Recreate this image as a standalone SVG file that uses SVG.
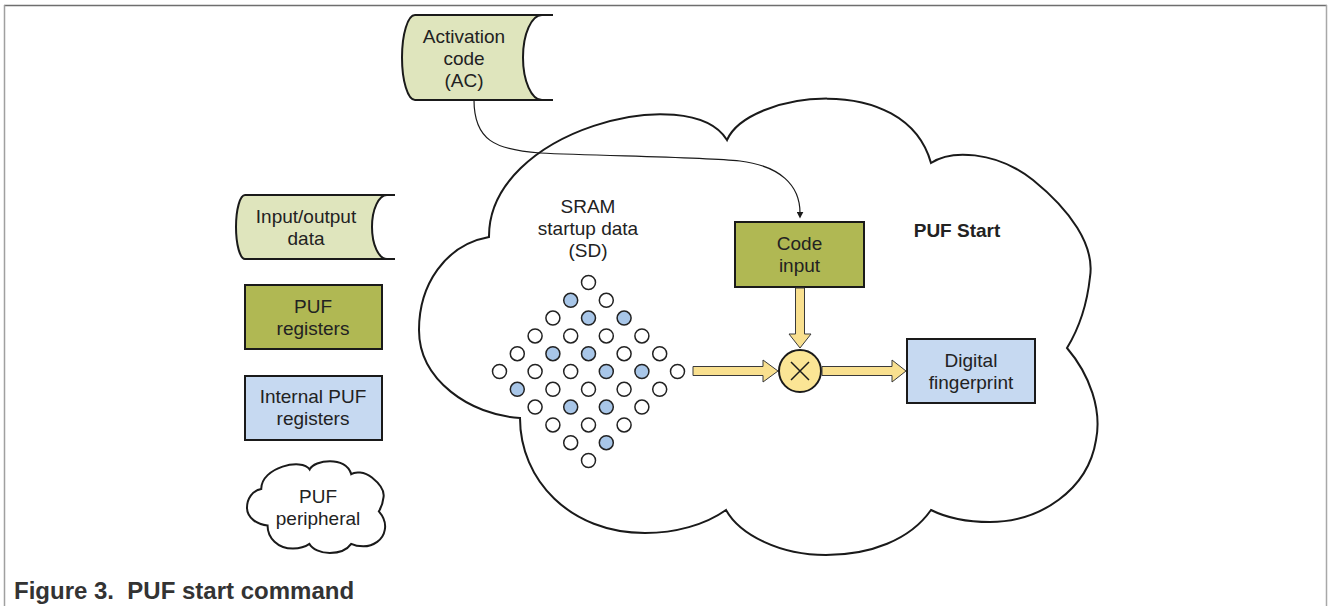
<svg xmlns="http://www.w3.org/2000/svg" width="1328" height="606" viewBox="0 0 1328 606">
  <style>
    .t{font-family:"Liberation Sans",Arial,sans-serif;font-size:19px;fill:#222;text-anchor:middle}
    .tb{font-weight:bold}
    .cap{font-family:"Liberation Sans",Arial,sans-serif;font-size:24px;font-weight:bold;fill:#333;white-space:pre}
    .edge{stroke:#1a1a1a;stroke-width:2}
    .olive{fill:#b0b853}
    .blue{fill:#c6d9f1}
    .store{fill:#dfe5bd}
    .dot{stroke:#222;stroke-width:1.5;fill:#fff}
    .dot.on{fill:#a8c6e8}
    .yarrow{fill:#f9e08f;stroke:#3a3a3a;stroke-width:1}
    .cloud{fill:#fff;stroke:#1a1a1a;stroke-width:2}
    .wire{fill:none;stroke:#1a1a1a;stroke-width:1.2}
  </style>
  <defs>
    <path id="cloudShape" vector-effect="non-scaling-stroke" d="M489,237 C488,130 690,80 727,140 C748,92 905,70 931,163 C950,150 995,150 1033,180 C1070,210 1095,245 1090,277 C1087,305 1078,330 1067,348 C1090,375 1102,410 1096,440 C1088,490 1040,522 990,522 C965,522 945,517 931,510 C910,540 870,555 826,555 C780,555 740,535 726,510 C705,525 675,533 645,533 C570,533 520,480 520,418 C470,415 419,380 419,330 C419,285 445,245 489,237 Z"/>
    <marker id="arrowBlack" viewBox="0 0 10 10" refX="2" refY="5" markerWidth="7" markerHeight="7" markerUnits="userSpaceOnUse" orient="auto">
      <path d="M0,0 L10,5 L0,10 Z" fill="#1a1a1a"/>
    </marker>
  </defs>

  <rect x="0" y="0" width="1328" height="606" fill="#fff"/>

  <!-- page frame -->
  <g id="frame" fill="none">
    <line x1="4" y1="5.5" x2="1327" y2="5.5" stroke="#6e6e6e" stroke-width="1.5"/>
    <line x1="4.5" y1="5" x2="4.5" y2="606" stroke="#a0a0a0" stroke-width="1.5"/>
    <line x1="1326.5" y1="5" x2="1326.5" y2="606" stroke="#a8a8a8" stroke-width="1.5"/>
  </g>

  <!-- PUF peripheral cloud: PUF Start -->
  <g id="node-puf-start">
    <use href="#cloudShape" class="cloud"/>
    <text class="t tb" x="957" y="237">PUF Start</text>
  </g>

  <!-- stored data: activation code -->
  <g id="node-activation-code">
    <path class="store edge" d="M415,15 L542,15 A19 42.5 0 0 0 542,100 L415,100 A13 42.5 0 0 1 415,15 Z"/>
    <path class="edge" fill="none" d="M542,15 L553,15 M542,100 L553,100"/>
    <text class="t" x="464" y="43">Activation</text>
    <text class="t" x="464" y="65">code</text>
    <text class="t" x="464" y="87">(AC)</text>
  </g>

  <!-- SRAM startup data -->
  <g id="node-sram">
    <text class="t" x="588" y="213">SRAM</text>
    <text class="t" x="588" y="235">startup data</text>
    <text class="t" x="588" y="256.5">(SD)</text>
    <g id="sram-cells">
      <circle class="dot" cx="588.5" cy="282.5" r="7"/>
      <circle class="dot on" cx="570.7" cy="300.3" r="7"/>
      <circle class="dot" cx="606.3" cy="300.3" r="7"/>
      <circle class="dot" cx="552.9" cy="318.1" r="7"/>
      <circle class="dot on" cx="588.5" cy="318.1" r="7"/>
      <circle class="dot on" cx="624.1" cy="318.1" r="7"/>
      <circle class="dot" cx="535.1" cy="335.9" r="7"/>
      <circle class="dot" cx="570.7" cy="335.9" r="7"/>
      <circle class="dot" cx="606.3" cy="335.9" r="7"/>
      <circle class="dot" cx="641.9" cy="335.9" r="7"/>
      <circle class="dot" cx="517.3" cy="353.7" r="7"/>
      <circle class="dot on" cx="552.9" cy="353.7" r="7"/>
      <circle class="dot on" cx="588.5" cy="353.7" r="7"/>
      <circle class="dot" cx="624.1" cy="353.7" r="7"/>
      <circle class="dot" cx="659.7" cy="353.7" r="7"/>
      <circle class="dot" cx="499.5" cy="371.5" r="7"/>
      <circle class="dot" cx="535.1" cy="371.5" r="7"/>
      <circle class="dot" cx="570.7" cy="371.5" r="7"/>
      <circle class="dot on" cx="606.3" cy="371.5" r="7"/>
      <circle class="dot on" cx="641.9" cy="371.5" r="7"/>
      <circle class="dot" cx="677.5" cy="371.5" r="7"/>
      <circle class="dot on" cx="517.3" cy="389.3" r="7"/>
      <circle class="dot" cx="552.9" cy="389.3" r="7"/>
      <circle class="dot" cx="588.5" cy="389.3" r="7"/>
      <circle class="dot" cx="624.1" cy="389.3" r="7"/>
      <circle class="dot" cx="659.7" cy="389.3" r="7"/>
      <circle class="dot" cx="535.1" cy="407.1" r="7"/>
      <circle class="dot on" cx="570.7" cy="407.1" r="7"/>
      <circle class="dot on" cx="606.3" cy="407.1" r="7"/>
      <circle class="dot" cx="641.9" cy="407.1" r="7"/>
      <circle class="dot" cx="552.9" cy="424.9" r="7"/>
      <circle class="dot" cx="588.5" cy="424.9" r="7"/>
      <circle class="dot" cx="624.1" cy="424.9" r="7"/>
      <circle class="dot" cx="570.7" cy="442.7" r="7"/>
      <circle class="dot on" cx="606.3" cy="442.7" r="7"/>
      <circle class="dot" cx="588.5" cy="460.5" r="7"/>
    </g>
  </g>

  <!-- Code input register -->
  <g id="node-code-input">
    <rect class="olive edge" x="735" y="222" width="129" height="65"/>
    <text class="t" x="799.5" y="250">Code</text>
    <text class="t" x="799.5" y="272">input</text>
  </g>

  <!-- combining operator -->
  <g id="node-combine">
    <circle cx="800" cy="371" r="21" fill="#fbe595" stroke="#1a1a1a" stroke-width="2"/>
    <path d="M791,362 L809,380 M809,362 L791,380" stroke="#1a1a1a" stroke-width="1.5"/>
  </g>

  <!-- Digital fingerprint -->
  <g id="node-digital-fingerprint">
    <rect class="blue edge" x="907" y="339" width="128" height="64"/>
    <text class="t" x="971" y="367">Digital</text>
    <text class="t" x="971" y="389">fingerprint</text>
  </g>

  <!-- legend -->
  <g id="legend-input-output">
    <path class="store edge" d="M245,195 L387,195 A15 32 0 0 0 387,259 L245,259 A9 32 0 0 1 245,195 Z"/>
    <path class="edge" fill="none" d="M387,195 L395,195 M387,259 L395,259"/>
    <text class="t" x="306" y="223">Input/output</text>
    <text class="t" x="306" y="245">data</text>
  </g>
  <g id="legend-puf-registers">
    <rect class="olive edge" x="245" y="285" width="137" height="64"/>
    <text class="t" x="313" y="313">PUF</text>
    <text class="t" x="313" y="335">registers</text>
  </g>
  <g id="legend-internal-registers">
    <rect class="blue edge" x="245" y="376" width="137" height="64"/>
    <text class="t" x="313" y="403">Internal PUF</text>
    <text class="t" x="313" y="424.5">registers</text>
  </g>
  <g id="legend-puf-peripheral">
    <use href="#cloudShape" class="cloud" transform="translate(247 461) scale(0.2035 0.2013) translate(-419 -98)"/>
    <text class="t" x="318" y="503">PUF</text>
    <text class="t" x="318" y="525">peripheral</text>
  </g>

  <!-- connectors -->
  <g id="connectors">
    <path class="wire" d="M474,100 C474,140 495,150 540,153 C600,156 700,157 740,161 C780,166 800,185 800,213" marker-end="url(#arrowBlack)"/>
    <polygon class="yarrow" points="795.5,288 804.5,288 804.5,334 811,334 800,348 789,334 795.5,334"/>
    <polygon class="yarrow" points="693,366.5 763,366.5 763,360 778,371 763,382 763,375.5 693,375.5"/>
    <polygon class="yarrow" points="822,366.5 892,366.5 892,360 906,371 892,382 892,375.5 822,375.5"/>
  </g>

  <text class="cap" x="14" y="599">Figure 3.  PUF start command</text>
</svg>
